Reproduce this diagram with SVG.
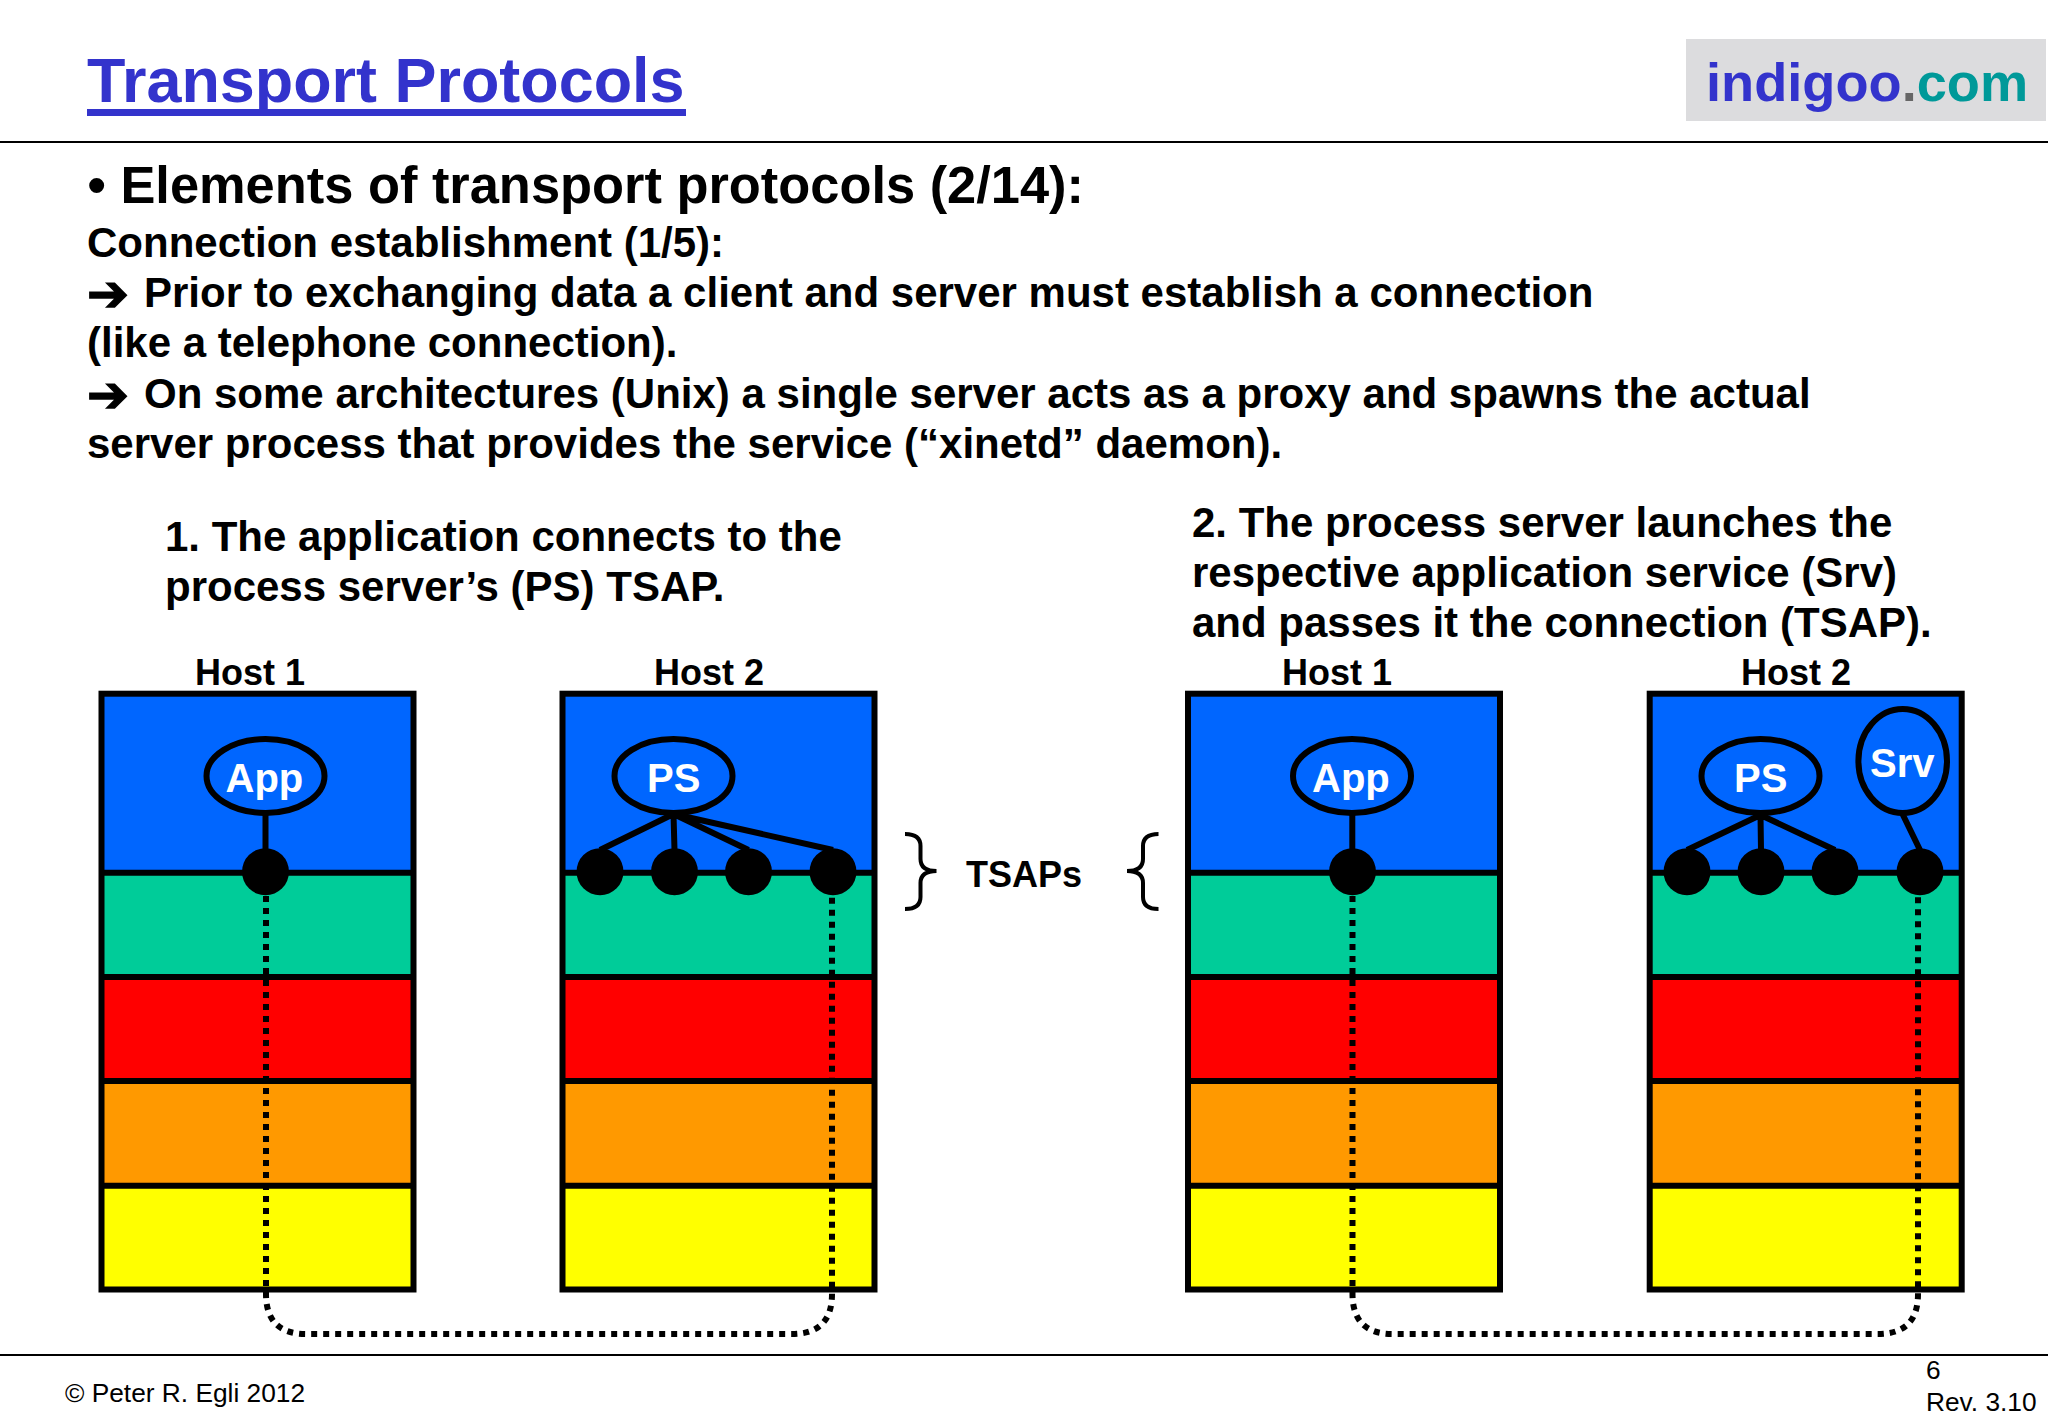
<svg xmlns="http://www.w3.org/2000/svg" width="2048" height="1418" viewBox="0 0 2048 1418">
<defs>
<style>
text{font-family:"Liberation Sans",Arial,sans-serif;font-weight:700;fill:#000}
.body{font-size:42px}
.host{font-size:36px}
.w{font-size:40px;fill:#fff}
.foot{font-size:26.3px;font-weight:400}
.arrow{font-family:"DejaVu Sans",sans-serif;font-weight:700;font-size:50px;stroke:#000;stroke-width:1.5}
.box{fill:none;stroke:#000;stroke-width:6}
.rule{stroke:#000;stroke-width:2;fill:none}
.sep{stroke:#000;stroke-width:6;fill:none}
.oval{fill:#0066ff;stroke:#000;stroke-width:6}
.dot{fill:#000}
.link{stroke:#000;stroke-width:6;fill:none}
.dotted{stroke:#000;stroke-width:6;fill:none;stroke-dasharray:6 6}
.brace{stroke:#000;stroke-width:4;fill:none}
</style>
<g id="stack">
<rect x="0" y="0" width="312" height="179" fill="#0066ff"/>
<rect x="0" y="179" width="312" height="104.3" fill="#00cc99"/>
<rect x="0" y="283.3" width="312" height="104" fill="#ff0000"/>
<rect x="0" y="387.3" width="312" height="104.7" fill="#ff9900"/>
<rect x="0" y="492" width="312" height="103.8" fill="#ffff00"/>
<path class="sep" d="M0 179H312M0 283.3H312M0 387.3H312M0 492H312"/>
<rect class="box" x="0" y="0" width="312" height="595.8"/>
</g>
</defs>
<rect width="2048" height="1418" fill="#fff"/>
<g id="header">
<text x="87" y="102" font-size="62.9" style="fill:#3333cc">Transport Protocols</text>
<rect x="87" y="109" width="599" height="7" fill="#3333cc"/>
<rect x="1686" y="39" width="360" height="82" fill="#dcdcde"/>
<text x="1706" y="100.5" font-size="54.2" style="fill:#3333cc">indigoo<tspan style="fill:#666">.</tspan><tspan style="fill:#009999">com</tspan></text>
<line class="rule" x1="0" y1="142" x2="2048" y2="142"/>
</g>
<g id="body-text">
<text x="87.5" y="203" font-size="52.4">• Elements of transport protocols (2/14):</text>
<text class="body" x="87" y="256.5">Connection establishment (1/5):</text>
<text class="body" x="87" y="306.5"><tspan class="arrow" dy="4">➔</tspan><tspan x="144" dy="-4">Prior to exchanging data a client and server must establish a connection</tspan></text>
<text class="body" x="87" y="356.5">(like a telephone connection).</text>
<text class="body" x="87" y="407.5"><tspan class="arrow" dy="4">➔</tspan><tspan x="144" dy="-4">On some architectures (Unix) a single server acts as a proxy and spawns the actual</tspan></text>
<text class="body" x="87" y="457.5">server process that provides the service (“xinetd” daemon).</text>
<text class="body" x="165" y="551">1. The application connects to the</text>
<text class="body" x="165" y="601">process server’s (PS) TSAP.</text>
<text class="body" x="1192" y="536.5">2. The process server launches the</text>
<text class="body" x="1192" y="586.5">respective application service (Srv)</text>
<text class="body" x="1192" y="637">and passes it the connection (TSAP).</text>
</g>
<g id="host1-left">
<use href="#stack" x="101.5" y="693.7"/>
<text class="host" x="195" y="685">Host 1</text>
<ellipse class="oval" cx="265.5" cy="776" rx="59" ry="37"/>
<text class="w" x="225.5" y="791.7">App</text>
<circle class="dot" cx="265.5" cy="871.7" r="23.5"/>
</g>
<g id="host2-left">
<use href="#stack" x="562.5" y="693.7"/>
<text class="host" x="654" y="685">Host 2</text>
<ellipse class="oval" cx="673.5" cy="776" rx="59" ry="37"/>
<text class="w" x="647" y="791.7">PS</text>
<circle class="dot" cx="600" cy="871.7" r="23.5"/>
<circle class="dot" cx="674.5" cy="871.7" r="23.5"/>
<circle class="dot" cx="748.5" cy="871.7" r="23.5"/>
<circle class="dot" cx="833" cy="871.7" r="23.5"/>
</g>
<g id="tsaps">
<text class="host" x="966" y="887.3">TSAPs</text>
<path class="brace" d="M905 834Q920.5 834 920.5 846V859Q920.5 871 936.5 871Q920.5 871 920.5 883V897Q920.5 909 905 909"/>
<path class="brace" d="M1158.5 834Q1143 834 1143 846V859Q1143 871 1127 871Q1143 871 1143 883V897Q1143 909 1158.5 909"/>
</g>
<g id="host1-right">
<use href="#stack" x="1188" y="693.7"/>
<text class="host" x="1282" y="685">Host 1</text>
<ellipse class="oval" cx="1352" cy="776" rx="59" ry="37"/>
<text class="w" x="1312" y="791.7">App</text>
<circle class="dot" cx="1352.5" cy="871.7" r="23.5"/>
</g>
<g id="host2-right">
<use href="#stack" x="1649.7" y="693.7"/>
<text class="host" x="1741" y="685">Host 2</text>
<ellipse class="oval" cx="1760.5" cy="776" rx="59" ry="37"/>
<text class="w" x="1734" y="791.7">PS</text>
<ellipse class="oval" cx="1902.7" cy="761" rx="44.3" ry="52"/>
<text class="w" x="1870" y="776.7">Srv</text>
<circle class="dot" cx="1687" cy="871.7" r="23.5"/>
<circle class="dot" cx="1761" cy="871.7" r="23.5"/>
<circle class="dot" cx="1835" cy="871.7" r="23.5"/>
<circle class="dot" cx="1920" cy="871.7" r="23.5"/>
</g>
<g id="connectors">
<path class="link" d="M265.5 813V850"/>
<path class="link" d="M673.5 814L600 850M673.5 814L674.5 850M673.5 814L748.5 850M673.5 814L833 850"/>
<path class="link" d="M1352.3 813V850"/>
<path class="link" d="M1760.5 815L1687 850M1760.5 815L1761 850M1760.5 815L1835 850M1902.5 814L1920 850"/>
<path class="dotted" d="M266 896V1294Q266 1334 306 1334H792Q832 1334 832 1294V896"/>
<path class="dotted" d="M1352.5 896V1294Q1352.5 1334 1392.5 1334H1878Q1918 1334 1918 1294V896"/>
</g>
<g id="footer">
<line class="rule" x1="0" y1="1355" x2="2048" y2="1355"/>
<text class="foot" x="65" y="1402">© Peter R. Egli 2012</text>
<text class="foot" x="1926" y="1379">6</text>
<text class="foot" x="1926" y="1411">Rev. 3.10</text>
</g>
</svg>
